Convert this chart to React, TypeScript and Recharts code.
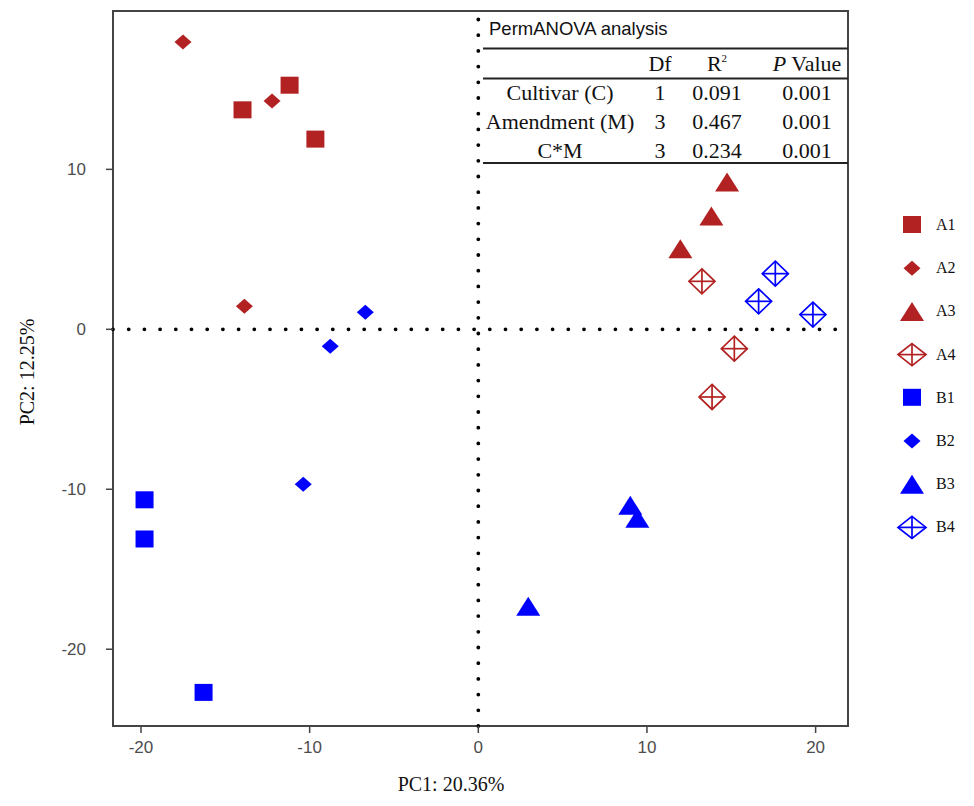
import React from "react";
import {
  ScatterChart,
  Scatter,
  XAxis,
  YAxis,
  ReferenceLine,
  ReferenceArea,
  Legend,
} from "recharts";

// PCA scores (PC1, PC2)
const a1X = [-13.98, -11.19, -9.66];
const a1Y = [13.69, 15.23, 11.86];
const a2X = [-17.51, -12.23, -13.87];
const a2Y = [17.96, 14.27, 1.44];
const a3X = [14.75, 13.82, 11.98];
const a3Y = [9.21, 7.08, 5.04];
const a4X = [13.26, 15.18, 13.86];
const a4Y = [3.0, -1.21, -4.23];
const b1X = [-19.79, -19.79, -16.29];
const b1Y = [-10.69, -13.14, -22.73];
const b2X = [-6.7, -8.78, -10.38];
const b2Y = [1.06, -1.06, -9.69];
const b3X = [9.01, 9.43, 2.96];
const b3Y = [-11.0, -11.81, -17.31];
const b4X = [17.61, 16.62, 19.84];
const b4Y = [3.48, 1.75, 0.92];

const groups = ["A1", "A2", "A3", "A4", "B1", "B2", "B3", "B4"];
const xTicks = [-20, -10, 0, 10, 20];
const yTicks = [-20, -10, 0, 10];

// PermANOVA table
const tableTerms = ["Cultivar (C)", "Amendment (M)", "C*M"];
const tableDf = ["1", "3", "3"];
const tableR2 = ["0.091", "0.467", "0.234"];
const tableP = ["0.001", "0.001", "0.001"];

const RED = "#B22222";
const BLUE = "#0000FF";

const X_DOMAIN: [number, number] = [-21.66, 21.92];
const Y_DOMAIN: [number, number] = [-24.8, 19.9];

type Kind = "square" | "diamond" | "triangle" | "open";

function glyph(kind: Kind, color: string, cx: number, cy: number, legend = false) {
  if (kind === "square") {
    const s = 18;
    return <rect x={cx - s / 2} y={cy - s / 2} width={s} height={s - 1} fill={color} />;
  }
  if (kind === "diamond") {
    const w = 8.5;
    const h = 7.5;
    return (
      <polygon
        points={`${cx},${cy - h} ${cx + w},${cy} ${cx},${cy + h} ${cx - w},${cy}`}
        fill={color}
      />
    );
  }
  if (kind === "triangle") {
    const w = 12;
    const h = 19;
    return (
      <polygon
        points={`${cx},${cy - h / 2} ${cx + w},${cy + h / 2} ${cx - w},${cy + h / 2}`}
        fill={color}
      />
    );
  }
  const w = legend ? 14 : 13;
  const h = legend ? 11 : 12.5;
  return (
    <g stroke={color} strokeWidth={1.7} fill="none">
      <polygon points={`${cx},${cy - h} ${cx + w},${cy} ${cx},${cy + h} ${cx - w},${cy}`} />
      <line x1={cx - w} y1={cy} x2={cx + w} y2={cy} />
      <line x1={cx} y1={cy - h} x2={cx} y2={cy + h} />
    </g>
  );
}

const toPoints = (xs: number[], ys: number[]) => xs.map((x, i) => ({ x, y: ys[i] }));

const series: { name: string; kind: Kind; color: string; data: { x: number; y: number }[] }[] = [
  { name: groups[0], kind: "square", color: RED, data: toPoints(a1X, a1Y) },
  { name: groups[1], kind: "diamond", color: RED, data: toPoints(a2X, a2Y) },
  { name: groups[2], kind: "triangle", color: RED, data: toPoints(a3X, a3Y) },
  { name: groups[3], kind: "open", color: RED, data: toPoints(a4X, a4Y) },
  { name: groups[4], kind: "square", color: BLUE, data: toPoints(b1X, b1Y) },
  { name: groups[5], kind: "diamond", color: BLUE, data: toPoints(b2X, b2Y) },
  { name: groups[6], kind: "triangle", color: BLUE, data: toPoints(b3X, b3Y) },
  { name: groups[7], kind: "open", color: BLUE, data: toPoints(b4X, b4Y) },
];

function GroupLegend() {
  return (
    <svg width={72} height={340}>
      {series.map((s, i) => {
        const cy = 17 + i * 43.2;
        return (
          <g key={s.name}>
            {glyph(s.kind, s.color, 18, cy, true)}
            <text
              x={42}
              y={cy + 5}
              fontFamily="'Liberation Serif', serif"
              fontSize={16}
              fill="#111"
            >
              {s.name}
            </text>
          </g>
        );
      })}
    </svg>
  );
}

function AnovaTable() {
  const serif = "'Liberation Serif', serif";
  const cols = [552, 652, 709, 799];
  const rowY = [92, 121, 150];
  return (
    <g fontFamily={serif} fontSize={22} fill="#111" textAnchor="middle">
      <text x={481} y={27} textAnchor="start" fontFamily="'Liberation Sans', sans-serif" fontSize={18.5}>
        PermANOVA analysis
      </text>
      <line x1={475} y1={40.5} x2={840} y2={40.5} stroke="#222" strokeWidth={2} />
      <text x={cols[1]} y={63}>Df</text>
      <text x={cols[2]} y={63}>
        R<tspan dy={-9} fontSize={11}>2</tspan>
      </text>
      <text x={cols[3]} y={63}>
        <tspan fontStyle="italic">P</tspan> Value
      </text>
      <line x1={475} y1={70.5} x2={840} y2={70.5} stroke="#222" strokeWidth={2} />
      {tableTerms.map((t, i) => (
        <g key={t}>
          <text x={cols[0]} y={rowY[i]}>{t}</text>
          <text x={cols[1]} y={rowY[i]}>{tableDf[i]}</text>
          <text x={cols[2]} y={rowY[i]}>{tableR2[i]}</text>
          <text x={cols[3]} y={rowY[i]}>{tableP[i]}</text>
        </g>
      ))}
      <line x1={475} y1={155} x2={840} y2={155} stroke="#222" strokeWidth={2} />
    </g>
  );
}

export default function App() {
  return (
    <div style={{ position: "relative", width: 958, height: 790, background: "#fff" }}>
      <ScatterChart
        width={958}
        height={790}
        margin={{ top: 3, right: 118, bottom: 12, left: 0 }}
      >
        <XAxis
          type="number"
          dataKey="x"
          domain={X_DOMAIN}
          ticks={xTicks}
          allowDataOverflow
          axisLine={false}
          tickLine={{ stroke: "#444", strokeWidth: 1.5 }}
          tickSize={7}
          tickMargin={8}
          height={60}
          tick={{ fill: "#4d4d4d", fontSize: 17, fontFamily: "'Liberation Sans', sans-serif" }}
        />
        <YAxis
          type="number"
          dataKey="y"
          domain={Y_DOMAIN}
          ticks={yTicks}
          allowDataOverflow
          axisLine={false}
          tickLine={{ stroke: "#444", strokeWidth: 1.5 }}
          tickSize={7}
          tickMargin={20}
          width={105}
          tick={{ fill: "#4d4d4d", fontSize: 17, fontFamily: "'Liberation Sans', sans-serif" }}
        />
        <ReferenceArea
          x1={X_DOMAIN[0]}
          x2={X_DOMAIN[1]}
          y1={Y_DOMAIN[0]}
          y2={Y_DOMAIN[1]}
          fill="none"
          stroke="#444"
          strokeWidth={2}
        />
        <ReferenceLine
          x={0}
          stroke="#000"
          strokeWidth={3.8}
          strokeDasharray="0 15.7"
          strokeLinecap="round"
        />
        <ReferenceLine
          y={0}
          stroke="#000"
          strokeWidth={3.8}
          strokeDasharray="0 15.7"
          strokeLinecap="round"
        />
        {series.map((s) => (
          <Scatter
            key={s.name}
            name={s.name}
            data={s.data}
            isAnimationActive={false}
            shape={(p: any) => glyph(s.kind, s.color, p.cx, p.cy)}
          />
        ))}
        <Legend
          layout="vertical"
          align="center"
          verticalAlign="middle"
          content={() => <GroupLegend />}
          wrapperStyle={{ position: "absolute", left: 886, top: 200, width: 72, height: 340 }}
        />
      </ScatterChart>
      <svg
        width={958}
        height={790}
        style={{ position: "absolute", left: 0, top: 0, pointerEvents: "none" }}
      >
        <AnovaTable />
        <text
          x={443}
          y={783}
          textAnchor="middle"
          fontFamily="'Liberation Serif', serif"
          fontSize={20}
          fill="#111"
        >
          PC1:  20.36%
        </text>
        <text
          transform="translate(26,364) rotate(-90)"
          textAnchor="middle"
          fontFamily="'Liberation Serif', serif"
          fontSize={20}
          fill="#111"
        >
          PC2:  12.25%
        </text>
      </svg>
    </div>
  );
}
